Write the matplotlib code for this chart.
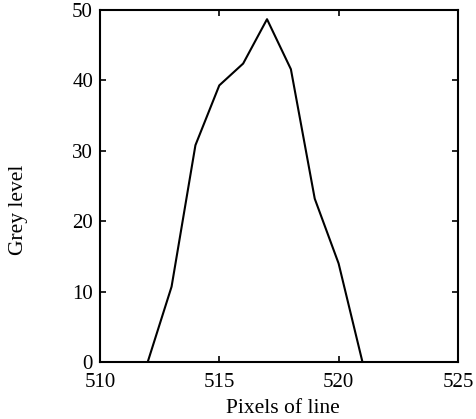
import numpy as np
import matplotlib.pyplot as plt

# grey level profile across the line
pixels = [512, 513, 514, 515, 516, 517, 518, 519, 520, 521]
grey = [0, 10.7, 30.8, 39.3, 42.4, 48.7, 41.6, 23.2, 14.0, 0]

plt.rcParams['font.family'] = ['Liberation Serif', 'DejaVu Serif']

fig = plt.figure(figsize=(4.77, 4.19), dpi=100)
ax = fig.add_axes([0.2096, 0.136, 0.7504, 0.84])

ax.plot(pixels, grey, color='black', linewidth=1.5)

ax.set_xlim(510, 525)
ax.set_ylim(0, 50)
ax.set_xticks([510, 515, 520, 525])
ax.set_yticks([0, 10, 20, 30, 40, 50])
ax.tick_params(direction='in', top=True, right=True, length=4, width=1.2,
               labelsize=15)
ax.tick_params(axis='x', pad=8)
ax.tick_params(axis='y', pad=5)
for s in ax.spines.values():
    s.set_linewidth(1.5)

ax.set_xlabel('Pixels of line', fontsize=15.5)
ax.set_ylabel('Grey level', fontsize=15.5)
ax.xaxis.set_label_coords(0.511, -0.105)
ax.yaxis.set_label_coords(-0.2, 0.432)

fig.savefig('out.png', dpi=100)
